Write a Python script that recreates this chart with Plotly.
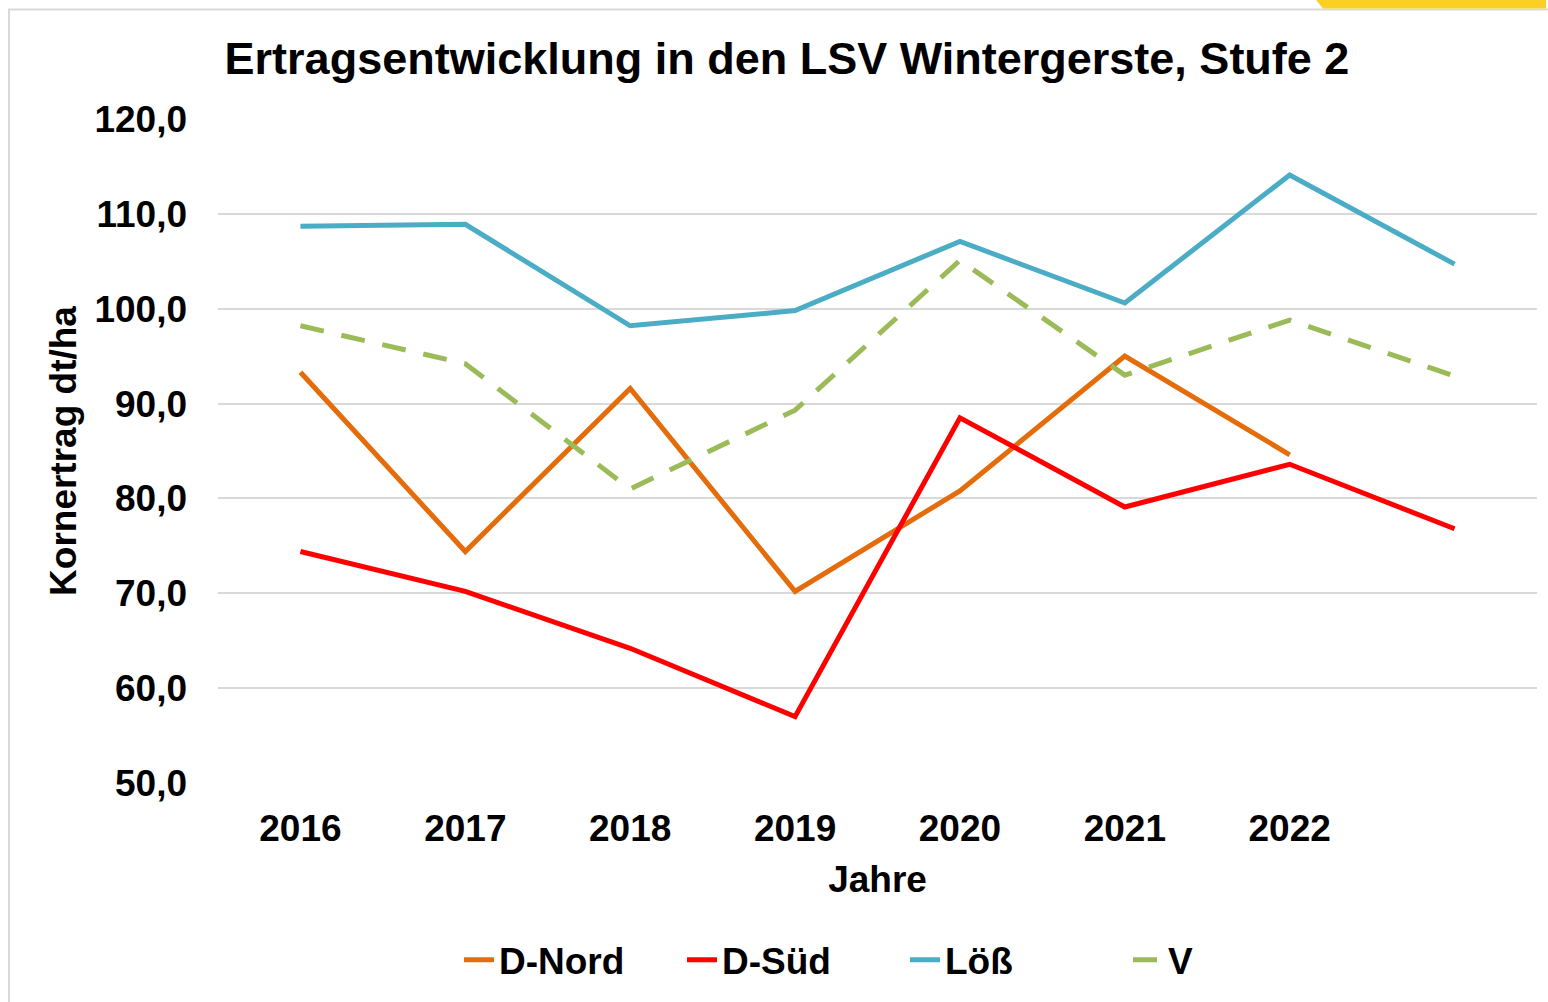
import plotly.graph_objects as go

# Jahre (letzte Kategorie ohne Beschriftung)
jahre = ['2016', '2017', '2018', '2019', '2020', '2021', '2022', '']
d_nord = [93.3, 74.4, 91.6, 70.2, 80.8, 95.0, 84.6]
d_sued = [74.4, 70.2, 64.2, 57.0, 88.5, 79.1, 83.6, 76.8]
loess = [108.7, 108.9, 98.2, 99.8, 107.1, 100.6, 114.1, 104.7]
v_werte = [98.2, 94.2, 81.0, 89.3, 105.1, 93.0, 98.8, 92.9]
y_ticks = [50, 60, 70, 80, 90, 100, 110, 120]

W, H = 1548, 1002
L, R, T, B = 218, 1537, 119, 786  # Plotbereich in Pixeln


def px(x):
    return (x - L) / (R - L)


def py(y):
    return (B - y) / (B - T)


FONT = 'Liberation Sans, Arial, sans-serif'
pos = list(range(len(jahre)))

fig = go.Figure()
fig.add_trace(go.Scatter(x=pos[:len(d_nord)], y=d_nord, mode='lines', name='D-Nord',
                         line=dict(color='#E46C0A', width=5)))
fig.add_trace(go.Scatter(x=pos, y=d_sued, mode='lines', name='D-Süd',
                         line=dict(color='#FF0000', width=5)))
fig.add_trace(go.Scatter(x=pos, y=loess, mode='lines', name='Löß',
                         line=dict(color='#4BACC6', width=5)))
fig.add_trace(go.Scatter(x=pos, y=v_werte, mode='lines', name='V',
                         line=dict(color='#9BBB59', width=5, dash='24px,18px')))

fig.update_layout(
    width=W, height=H,
    margin=dict(l=L, r=W - R, t=T, b=H - B, pad=0),
    paper_bgcolor='white', plot_bgcolor='white',
    font=dict(family=FONT, size=37, color='black', weight='bold'),
    title=dict(text='Ertragsentwicklung in den LSV Wintergerste, Stufe 2',
               font=dict(family=FONT, size=45, color='black', weight='bold'),
               x=787 / W, xref='container', xanchor='center',
               y=1 - 58 / H, yref='container', yanchor='middle'),
    xaxis=dict(range=[-0.5, len(jahre) - 0.5], tickmode='array', tickvals=pos, ticktext=jahre,
               showgrid=False, zeroline=False, showline=False, ticks='',
               ticklabelstandoff=20,
               title=dict(text='Jahre', standoff=18,
                          font=dict(family=FONT, size=37, color='black', weight='bold'))),
    yaxis=dict(range=[50, 120], tickmode='array', tickvals=y_ticks,
               ticktext=[f'{v:.1f}'.replace('.', ',') for v in y_ticks],
               showgrid=True, gridcolor='#D9D9D9', gridwidth=1.5,
               zeroline=False, showline=False, ticks='', ticklabelstandoff=30,
               title=dict(text='Kornertrag dt/ha', standoff=6,
                          font=dict(family=FONT, size=37, color='black', weight='bold'))),
    legend=dict(orientation='h', x=px(905), xanchor='center', y=py(964), yanchor='middle',
                font=dict(family=FONT, size=37, color='black', weight='bold'),
                entrywidth=178, tracegroupgap=0, bgcolor='rgba(0,0,0,0)'),
    showlegend=True,
)

# Rahmen und gelbe Ecke oben rechts
fig.add_shape(type='rect', xref='paper', yref='paper', layer='below',
              x0=px(9), x1=px(1565), y0=py(9), y1=py(1015),
              line=dict(color='#D9D9D9', width=2), fillcolor='rgba(0,0,0,0)')
fig.add_shape(type='path', xref='paper', yref='paper',
              path=f'M {px(1315)} {py(-2)} L {px(1546)} {py(-2)} L {px(1546)} {py(8)} L {px(1323)} {py(8)} Z',
              line=dict(width=0), fillcolor='#FCD022')

fig.write_html('out.html', config={'displayModeBar': False},
               post_script="document.body.style.margin='0';")
